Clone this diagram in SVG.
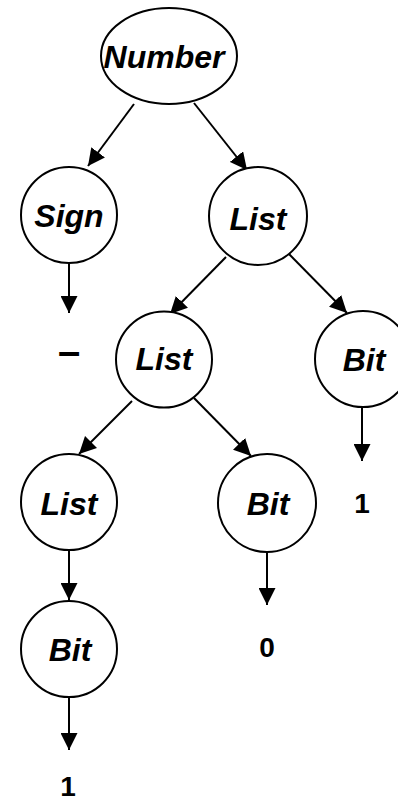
<svg xmlns="http://www.w3.org/2000/svg" width="398" height="803" viewBox="0 0 398 803">
<defs>
<style>
.node{fill:#fff;stroke:#000;stroke-width:2}
.lbl{font-family:"Liberation Sans",Arial,sans-serif;font-weight:bold;font-style:italic;font-size:32px;text-anchor:middle;fill:#000}
.val{font-family:"Liberation Sans",Arial,sans-serif;font-weight:bold;font-size:28px;text-anchor:middle;fill:#000}
.edge{stroke:#000;stroke-width:2;fill:none;marker-end:url(#arr)}
</style>
<marker id="arr" viewBox="0 0 16 16" refX="16" refY="8" markerWidth="17" markerHeight="17" markerUnits="userSpaceOnUse" orient="auto">
<path d="M0,0 L16,8 L0,16 z" fill="#000"/>
</marker>
</defs>
<rect width="398" height="803" fill="#fff"/>
<g id="connectors">
<line class="edge" x1="134" y1="104" x2="88" y2="166"/>
<line class="edge" x1="194" y1="103" x2="247" y2="170"/>
<line class="edge" x1="226" y1="257" x2="170" y2="314"/>
<line class="edge" x1="289" y1="254" x2="347" y2="313"/>
<line class="edge" x1="132" y1="401" x2="79" y2="454"/>
<line class="edge" x1="194" y1="398" x2="251" y2="456"/>
<line class="edge" x1="69" y1="263" x2="69" y2="313"/>
<line class="edge" x1="69" y1="551" x2="69" y2="600"/>
<line class="edge" x1="69" y1="698" x2="69" y2="750"/>
<line class="edge" x1="362" y1="408" x2="362" y2="461"/>
<line class="edge" x1="267" y1="553" x2="267" y2="605"/>
</g>
<g id="number"><ellipse class="node" cx="169" cy="56" rx="68" ry="48"/><text class="lbl" x="164" y="68">Number</text></g>
<g id="sign"><circle class="node" cx="69" cy="215" r="48"/><text class="lbl" x="69" y="227">Sign</text></g>
<g id="list1"><circle class="node" cx="258" cy="216" r="49"/><text class="lbl" x="258" y="230">List</text></g>
<g id="list2"><circle class="node" cx="164" cy="359.5" r="48"/><text class="lbl" x="164" y="370">List</text></g>
<g id="bit1"><circle class="node" cx="363" cy="359" r="48"/><text class="lbl" x="364" y="371">Bit</text></g>
<g id="list3"><circle class="node" cx="69" cy="502" r="48"/><text class="lbl" x="69" y="515">List</text></g>
<g id="bit2"><circle class="node" cx="267" cy="503" r="49"/><text class="lbl" x="268" y="515">Bit</text></g>
<g id="bit3"><circle class="node" cx="69" cy="649" r="48"/><text class="lbl" x="70" y="661">Bit</text></g>
<g id="minus"><text class="val" style="font-size:40px" x="69" y="365">–</text></g>
<g id="v1"><text class="val" x="362" y="513">1</text></g>
<g id="v0"><text class="val" x="267" y="657">0</text></g>
<g id="v1b"><text class="val" x="68" y="796">1</text></g>
</svg>
